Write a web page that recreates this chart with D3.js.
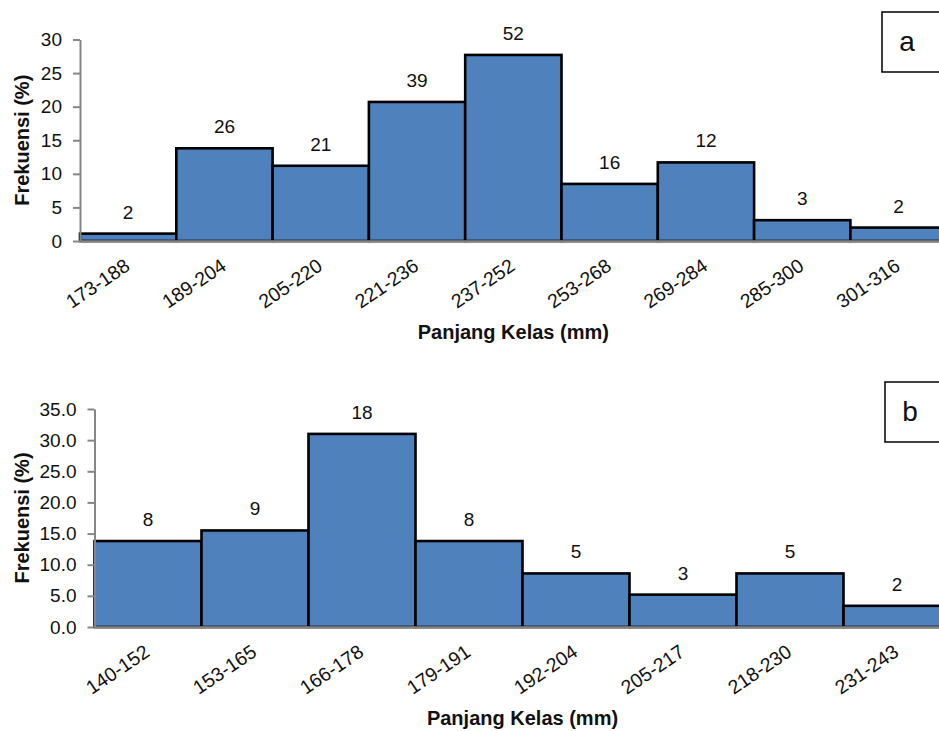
<!DOCTYPE html>
<html>
<head>
<meta charset="utf-8">
<script src="https://cdn.jsdelivr.net/npm/d3@7/dist/d3.min.js"></script>
<style>
  html, body { margin: 0; padding: 0; background: #fff; }
  svg { display: block; font-family: "Liberation Sans", Arial, sans-serif; }
</style>
</head>
<body>
<svg id="chart" width="939" height="731"></svg>
<script>
// ---- Data ----
const categoriesA = ["173-188","189-204","205-220","221-236","237-252","253-268","269-284","285-300","301-316"];
const percentA    = [1.1, 13.8, 11.2, 20.7, 27.7, 8.5, 11.7, 3.1, 2.0];
const countsA     = [2, 26, 21, 39, 52, 16, 12, 3, 2];
const yTicksA     = [0, 5, 10, 15, 20, 25, 30];

const categoriesB = ["140-152","153-165","166-178","179-191","192-204","205-217","218-230","231-243"];
const percentB    = [13.8, 15.5, 31.0, 13.8, 8.6, 5.2, 8.6, 3.4];
const countsB     = [8, 9, 18, 8, 5, 3, 5, 2];
const yTicksB     = [0, 5, 10, 15, 20, 25, 30, 35];

const svg = d3.select("#chart");

function drawPanel(cfg) {
  const g = svg.append("g");
  const x = d3.scaleBand().domain(cfg.categories).range([cfg.x0, cfg.x1]).padding(0);
  const y = d3.scaleLinear().domain([0, cfg.yMax]).range([cfg.yBase, cfg.yTop]);

  // bars
  g.selectAll("rect.bar").data(cfg.values).join("rect")
    .attr("class", "bar")
    .attr("x", (d, i) => x(cfg.categories[i]))
    .attr("y", d => y(d))
    .attr("width", x.bandwidth())
    .attr("height", d => y(0) - y(d))
    .attr("fill", "#4F81BD")
    .attr("stroke", "#000")
    .attr("stroke-width", 2.6);

  // data labels
  g.selectAll("text.lbl").data(cfg.values).join("text")
    .attr("class", "lbl")
    .attr("x", (d, i) => x(cfg.categories[i]) + x.bandwidth() / 2)
    .attr("y", d => y(d) - 15)
    .attr("text-anchor", "middle")
    .attr("font-size", 19)
    .attr("fill", "#111")
    .text((d, i) => cfg.counts[i]);

  // y axis
  const yAxis = d3.axisLeft(y).tickValues(cfg.yTicks).tickSize(7).tickSizeOuter(0)
    .tickFormat(cfg.fmt);
  const ya = g.append("g").attr("transform", `translate(${cfg.x0},0)`).call(yAxis);
  ya.select(".domain").attr("stroke", "#868686").attr("stroke-width", 2);
  ya.selectAll(".tick line").attr("stroke", "#868686").attr("stroke-width", 2);
  ya.selectAll(".tick text").attr("font-size", 19).attr("fill", "#111")
    .attr("font-family", "Liberation Sans, Arial, sans-serif").attr("x", -18);

  // x axis baseline
  const xAxis = d3.axisBottom(x).tickSize(0).tickSizeOuter(0).tickFormat("");
  const xa = g.append("g").attr("transform", `translate(0,${cfg.yBase})`).call(xAxis);
  xa.select(".domain").attr("stroke", "#868686").attr("stroke-width", 2.6);

  // rotated category labels
  g.selectAll("text.cat").data(cfg.categories).join("text")
    .attr("class", "cat")
    .attr("text-anchor", "end")
    .attr("font-size", 19.5)
    .attr("fill", "#111")
    .attr("transform", d => `translate(${x(d) + x.bandwidth() / 2 + 3},${cfg.yBase + 28}) rotate(-34)`)
    .text(d => d);

  // axis titles
  g.append("text")
    .attr("x", (cfg.x0 + cfg.x1) / 2)
    .attr("y", cfg.xTitleY)
    .attr("text-anchor", "middle")
    .attr("font-size", 20).attr("font-weight", "bold").attr("fill", "#111")
    .text("Panjang Kelas (mm)");

  g.append("text")
    .attr("transform", `translate(29,${(cfg.yBase + cfg.yTop) / 2}) rotate(-90)`)
    .attr("text-anchor", "middle")
    .attr("font-size", 20).attr("font-weight", "bold").attr("fill", "#111")
    .text("Frekuensi (%)");

  // panel letter box
  g.append("rect")
    .attr("x", cfg.boxX).attr("y", cfg.boxY)
    .attr("width", 80).attr("height", 60)
    .attr("fill", "#fff").attr("stroke", "#000").attr("stroke-width", 1.5);
  g.append("text")
    .attr("x", cfg.boxX + 25).attr("y", cfg.boxY + 39)
    .attr("text-anchor", "middle")
    .attr("font-size", 28).attr("fill", "#111")
    .text(cfg.letter);
}

drawPanel({
  categories: categoriesA, values: percentA, counts: countsA, yTicks: yTicksA,
  yMax: 30, fmt: d3.format("d"),
  x0: 80, x1: 946.7, yBase: 241, yTop: 39.5, xTitleY: 339,
  boxX: 882, boxY: 12, letter: "a"
});

drawPanel({
  categories: categoriesB, values: percentB, counts: countsB, yTicks: yTicksB,
  yMax: 35, fmt: d3.format(".1f"),
  x0: 94.5, x1: 950.5, yBase: 627, yTop: 409, xTitleY: 725,
  boxX: 885, boxY: 382, letter: "b"
});
</script>
</body>
</html>
